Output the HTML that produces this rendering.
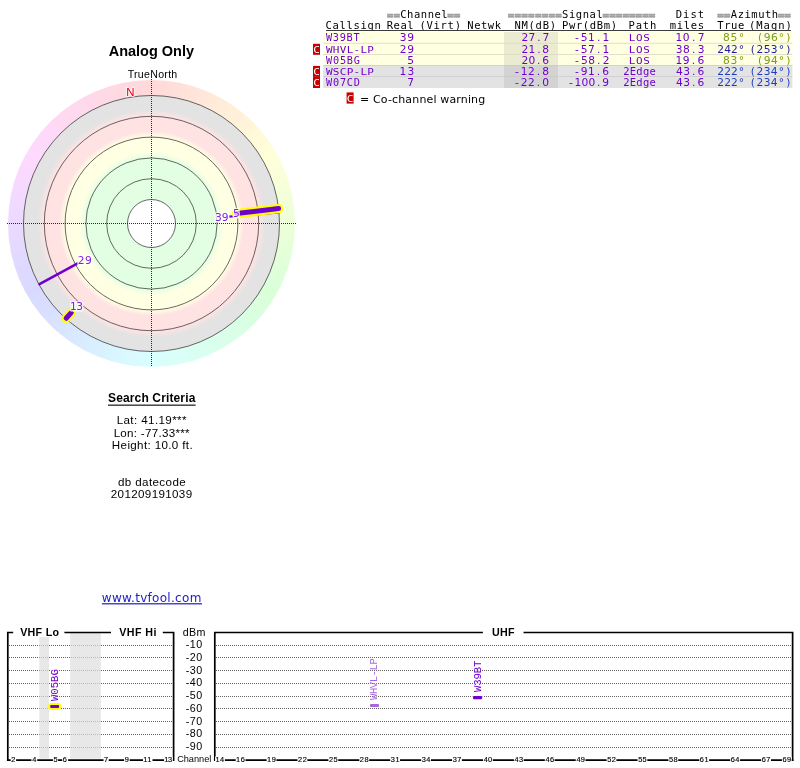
<!DOCTYPE html>
<html lang="en">
<head>
<meta charset="utf-8">
<title>TV Fool - Analog Only radar plot</title>
<style>
html,body{margin:0;padding:0;background:#fff;}
#wrap{position:relative;width:800px;height:768px;overflow:hidden;background:#fff;}
#ring{position:absolute;left:8px;top:80px;width:287px;height:287px;border-radius:50%;background:conic-gradient(from 0deg, rgb(255,217,217) 0deg, rgb(255,223,217) 10deg, rgb(255,230,217) 20deg, rgb(255,236,217) 30deg, rgb(255,242,217) 40deg, rgb(255,249,217) 50deg, rgb(255,255,217) 60deg, rgb(249,255,217) 70deg, rgb(242,255,217) 80deg, rgb(236,255,217) 90deg, rgb(230,255,217) 100deg, rgb(223,255,217) 110deg, rgb(217,255,217) 120deg, rgb(217,255,223) 130deg, rgb(217,255,230) 140deg, rgb(217,255,236) 150deg, rgb(217,255,242) 160deg, rgb(217,255,249) 170deg, rgb(217,255,255) 180deg, rgb(217,249,255) 190deg, rgb(217,242,255) 200deg, rgb(217,236,255) 210deg, rgb(217,229,255) 220deg, rgb(217,223,255) 230deg, rgb(217,217,255) 240deg, rgb(223,217,255) 250deg, rgb(229,217,255) 260deg, rgb(236,217,255) 270deg, rgb(242,217,255) 280deg, rgb(249,217,255) 290deg, rgb(255,217,255) 300deg, rgb(255,217,249) 310deg, rgb(255,217,242) 320deg, rgb(255,217,236) 330deg, rgb(255,217,230) 340deg, rgb(255,217,223) 350deg, rgb(255,217,217) 360deg);}
#wrap svg{position:absolute;left:0;top:0;display:block;}
text{white-space:pre;}
</style>
</head>
<body>
<div id="wrap">
<div id="ring"></div>
<svg width="800" height="768" viewBox="0 0 800 768">
<defs>
<radialGradient id="zones" gradientUnits="userSpaceOnUse" cx="151.5" cy="223.5" r="128">
<stop offset="0.0000" stop-color="#e3ffe3"/><stop offset="0.5141" stop-color="#e3ffe3"/><stop offset="0.5609" stop-color="#ffffe3"/><stop offset="0.6750" stop-color="#ffffe3"/><stop offset="0.7219" stop-color="#ffe3e3"/><stop offset="0.8406" stop-color="#ffe3e3"/><stop offset="0.8891" stop-color="#e3e3e3"/><stop offset="1.0000" stop-color="#e3e3e3"/>
</radialGradient>
</defs>
<text x="108.74" y="55.50" font-family="'Liberation Sans', Arial, sans-serif" font-size="14.50" font-weight="bold" fill="#000" style="letter-spacing:-0.015px" >Analog Only</text>
<text x="127.66" y="77.70" font-family="'Liberation Sans', Arial, sans-serif" font-size="10.60" font-weight="normal" fill="#000" style="letter-spacing:0.289px" >TrueNorth</text>
<circle cx="151.5" cy="223.5" r="128" fill="url(#zones)"/>
<circle cx="151.5" cy="223.5" r="24" fill="#fff"/>
<g fill="none" stroke="#282828" stroke-width="0.7">
<circle cx="151.5" cy="223.5" r="128"/>
<circle cx="151.5" cy="223.5" r="107.2"/>
<circle cx="151.5" cy="223.5" r="86.4"/>
<circle cx="151.5" cy="223.5" r="65.6"/>
<circle cx="151.5" cy="223.5" r="44.8"/>
<circle cx="151.5" cy="223.5" r="24"/>
</g>
<g stroke="#2a2a2a" stroke-width="1" stroke-dasharray="1 1" shape-rendering="crispEdges">
<line x1="7" y1="223.5" x2="296" y2="223.5"/>
<line x1="151.5" y1="79" x2="151.5" y2="367"/>
</g>
<text x="126.16" y="96.10" font-family="'Liberation Sans', Arial, sans-serif" font-size="11.40" font-weight="normal" fill="#e00018" style="letter-spacing:0.000px" stroke="#fff" stroke-opacity="0.55" stroke-width="2.4" stroke-linejoin="round" paint-order="stroke">N</text>
<line x1="229.40" y1="216.68" x2="279.31" y2="212.32" stroke="#7000d0" stroke-width="2.2" stroke-linecap="butt"/>
<line x1="78.14" y1="263.17" x2="38.55" y2="284.57" stroke="#7000d0" stroke-width="2.6" stroke-linecap="butt"/>
<line x1="71.27" y1="312.60" x2="66.19" y2="318.25" stroke="#ffff00" stroke-width="9.3" stroke-linecap="round"/>
<line x1="71.27" y1="312.60" x2="66.19" y2="318.25" stroke="#7000d0" stroke-width="5.0" stroke-linecap="round"/>
<line x1="236.52" y1="213.51" x2="278.63" y2="208.57" stroke="#ffff00" stroke-width="9.3" stroke-linecap="round"/>
<line x1="236.52" y1="213.51" x2="278.63" y2="208.57" stroke="#7000d0" stroke-width="5.0" stroke-linecap="round"/>
<rect x="214.60" y="212.00" width="14.30" height="10.40" rx="1" fill="#fff" fill-opacity="0.5"/>
<text x="218.38 225.06" y="221.00" text-anchor="middle" font-family="'DejaVu Sans', 'Liberation Sans', sans-serif" font-size="10.67" fill="#8020dc" stroke="#fff" stroke-opacity="0.55" stroke-width="2.4" stroke-linejoin="round" paint-order="stroke">39</text>
<rect x="232.80" y="208.00" width="7.20" height="10.40" rx="1" fill="#fff" fill-opacity="0.5"/>
<text x="236.45" y="217.00" text-anchor="middle" font-family="'DejaVu Sans', 'Liberation Sans', sans-serif" font-size="10.67" fill="#8020dc" stroke="#fff" stroke-opacity="0.55" stroke-width="2.4" stroke-linejoin="round" paint-order="stroke">5</text>
<rect x="77.40" y="254.80" width="14.80" height="10.40" rx="1" fill="#fff" fill-opacity="0.5"/>
<text x="81.21 88.36" y="263.80" text-anchor="middle" font-family="'DejaVu Sans', 'Liberation Sans', sans-serif" font-size="10.67" fill="#8020dc" stroke="#fff" stroke-opacity="0.55" stroke-width="2.4" stroke-linejoin="round" paint-order="stroke">29</text>
<rect x="70.00" y="301.40" width="13.40" height="10.40" rx="1" fill="#fff" fill-opacity="0.5"/>
<text x="73.42 79.66" y="310.40" text-anchor="middle" font-family="'DejaVu Sans', 'Liberation Sans', sans-serif" font-size="10.67" fill="#8020dc" stroke="#fff" stroke-opacity="0.55" stroke-width="2.4" stroke-linejoin="round" paint-order="stroke">13</text>
<text x="108.05" y="401.50" font-family="'Liberation Sans', Arial, sans-serif" font-size="12.00" font-weight="bold" fill="#000" style="letter-spacing:0.135px" >Search Criteria</text>
<rect x="108" y="404.6" width="87.6" height="1.1" fill="#000"/>
<text x="116.65" y="424.00" font-family="'Liberation Sans', Arial, sans-serif" font-size="11.60" font-weight="normal" fill="#000" style="letter-spacing:0.399px" >Lat: 41.19***</text>
<text x="113.65" y="437.00" font-family="'Liberation Sans', Arial, sans-serif" font-size="11.60" font-weight="normal" fill="#000" style="letter-spacing:0.285px" >Lon: -77.33***</text>
<text x="111.85" y="449.00" font-family="'Liberation Sans', Arial, sans-serif" font-size="11.60" font-weight="normal" fill="#000" style="letter-spacing:0.358px" >Height: 10.0 ft.</text>
<text x="117.91" y="486.00" font-family="'Liberation Sans', Arial, sans-serif" font-size="11.60" font-weight="normal" fill="#000" style="letter-spacing:0.395px" >db datecode</text>
<text x="110.82" y="498.00" font-family="'Liberation Sans', Arial, sans-serif" font-size="11.60" font-weight="normal" fill="#000" style="letter-spacing:0.356px" >201209191039</text>
<text x="101.80" y="601.70" font-family="'DejaVu Sans', 'Liberation Sans', sans-serif" font-size="12.00" font-weight="normal" fill="#1c1cc8" style="letter-spacing:0.298px" >www.tvfool.com</text>
<rect x="102" y="603.2" width="100" height="1.2" fill="#1c1cc8"/>
<rect x="323.2" y="32.0" width="469.20" height="11.20" fill="#ffffe1"/>
<rect x="504.0" y="32.0" width="54.00" height="11.20" fill="#ebebd1"/>
<rect x="323.2" y="43.2" width="469.20" height="11.20" fill="#ffffe1"/>
<rect x="504.0" y="43.2" width="54.00" height="11.20" fill="#ebebd1"/>
<rect x="323.2" y="54.4" width="469.20" height="11.00" fill="#ffffe1"/>
<rect x="504.0" y="54.4" width="54.00" height="11.00" fill="#ebebd1"/>
<rect x="323.2" y="65.4" width="469.20" height="11.20" fill="#e3e3e3"/>
<rect x="504.0" y="65.4" width="54.00" height="11.20" fill="#d3d3d3"/>
<rect x="323.2" y="76.6" width="469.20" height="11.40" fill="#e3e3e3"/>
<rect x="504.0" y="76.6" width="54.00" height="11.40" fill="#d3d3d3"/>
<rect x="323.2" y="42.85" width="469.20" height="0.7" fill="#d4d4bc"/>
<rect x="323.2" y="54.05" width="469.20" height="0.7" fill="#d4d4bc"/>
<rect x="323.2" y="65.05" width="469.20" height="0.7" fill="#c4c4c4"/>
<rect x="323.2" y="76.25" width="469.20" height="0.7" fill="#c4c4c4"/>
<text x="390.04 396.76" y="18.90" text-anchor="middle" font-family="'DejaVu Sans Mono', 'Liberation Mono', monospace" font-size="11.00" fill="#a0a0a0" font-weight="bold" stroke="#a0a0a0" stroke-width="0.5">==</text>
<text x="403.45 410.28 417.12 423.95 430.79 437.62 444.46" y="18.00" text-anchor="middle" font-family="'DejaVu Sans Mono', 'Liberation Mono', monospace" font-size="10.50" fill="#000" >Channel</text>
<text x="450.44 457.16" y="18.90" text-anchor="middle" font-family="'DejaVu Sans Mono', 'Liberation Mono', monospace" font-size="11.00" fill="#a0a0a0" font-weight="bold" stroke="#a0a0a0" stroke-width="0.5">==</text>
<text x="511.04 517.83 524.62 531.41 538.19 544.98 551.77 558.56" y="18.90" text-anchor="middle" font-family="'DejaVu Sans Mono', 'Liberation Mono', monospace" font-size="11.00" fill="#a0a0a0" font-weight="bold" stroke="#a0a0a0" stroke-width="0.5">========</text>
<text x="565.25 572.13 579.01 585.89 592.78 599.66" y="18.00" text-anchor="middle" font-family="'DejaVu Sans Mono', 'Liberation Mono', monospace" font-size="10.50" fill="#000" >Signal</text>
<text x="605.84 612.46 619.07 625.69 632.31 638.93 645.54 652.16" y="18.90" text-anchor="middle" font-family="'DejaVu Sans Mono', 'Liberation Mono', monospace" font-size="11.00" fill="#a0a0a0" font-weight="bold" stroke="#a0a0a0" stroke-width="0.5">========</text>
<text x="678.96 686.26 693.57 700.87" y="18.00" text-anchor="middle" font-family="'DejaVu Sans Mono', 'Liberation Mono', monospace" font-size="10.50" fill="#000" >Dist</text>
<text x="720.44 727.16" y="18.90" text-anchor="middle" font-family="'DejaVu Sans Mono', 'Liberation Mono', monospace" font-size="11.00" fill="#a0a0a0" font-weight="bold" stroke="#a0a0a0" stroke-width="0.5">==</text>
<text x="733.97 740.81 747.64 754.47 761.31 768.14 774.97" y="18.00" text-anchor="middle" font-family="'DejaVu Sans Mono', 'Liberation Mono', monospace" font-size="10.50" fill="#000" >Azimuth</text>
<text x="781.04 787.66" y="18.90" text-anchor="middle" font-family="'DejaVu Sans Mono', 'Liberation Mono', monospace" font-size="11.00" fill="#a0a0a0" font-weight="bold" stroke="#a0a0a0" stroke-width="0.5">==</text>
<text x="328.65 335.67 342.68 349.70 356.72 363.74 370.75 377.77" y="28.60" text-anchor="middle" font-family="'DejaVu Sans Mono', 'Liberation Mono', monospace" font-size="10.50" fill="#000" >Callsign</text>
<text x="389.93 396.77 403.62 410.46" y="28.60" text-anchor="middle" font-family="'DejaVu Sans Mono', 'Liberation Mono', monospace" font-size="10.50" fill="#000" >Real</text>
<text x="422.58 429.63 436.68 443.72 450.77 457.82" y="28.60" text-anchor="middle" font-family="'DejaVu Sans Mono', 'Liberation Mono', monospace" font-size="10.50" fill="#000" >(Virt)</text>
<text x="470.45 477.29 484.12 490.96 497.80" y="28.60" text-anchor="middle" font-family="'DejaVu Sans Mono', 'Liberation Mono', monospace" font-size="10.50" fill="#000" >Netwk</text>
<text x="517.65 524.68 531.72 538.75 545.79 552.82" y="28.60" text-anchor="middle" font-family="'DejaVu Sans Mono', 'Liberation Mono', monospace" font-size="10.50" fill="#000" >NM(dB)</text>
<text x="565.15 572.10 579.06 586.01 592.96 599.92 606.87 613.82" y="28.60" text-anchor="middle" font-family="'DejaVu Sans Mono', 'Liberation Mono', monospace" font-size="10.50" fill="#000" >Pwr(dBm)</text>
<text x="631.75 638.89 646.03 653.17" y="28.60" text-anchor="middle" font-family="'DejaVu Sans Mono', 'Liberation Mono', monospace" font-size="10.50" fill="#000" >Path</text>
<text x="672.80 679.82 686.84 693.86 700.88" y="28.60" text-anchor="middle" font-family="'DejaVu Sans Mono', 'Liberation Mono', monospace" font-size="10.50" fill="#000" >miles</text>
<text x="720.52 727.37 734.21 741.06" y="28.60" text-anchor="middle" font-family="'DejaVu Sans Mono', 'Liberation Mono', monospace" font-size="10.50" fill="#000" >True</text>
<text x="752.18 759.47 766.76 774.04 781.33 788.62" y="28.60" text-anchor="middle" font-family="'DejaVu Sans Mono', 'Liberation Mono', monospace" font-size="10.50" fill="#000" >(Magn)</text>
<rect x="326" y="30" width="465" height="1" fill="#3c3c3c"/>
<text x="329.08 335.92 342.77 349.61 356.46" y="41.00" text-anchor="middle" font-family="'DejaVu Sans Mono', 'Liberation Mono', monospace" font-size="10.23" fill="#7000d0" >W39BT</text>
<text x="403.18 410.76" y="41.00" text-anchor="middle" font-family="'DejaVu Sans', 'Liberation Sans', sans-serif" font-size="10.67" fill="#7000d0" >39</text>
<text x="525.01 531.98 538.95 545.92" y="41.00" text-anchor="middle" font-family="'DejaVu Sans', 'Liberation Sans', sans-serif" font-size="10.67" fill="#7000d0" >27.7</text>
<text x="577.00 584.25 591.50 598.74 605.99" y="41.00" text-anchor="middle" font-family="'DejaVu Sans', 'Liberation Sans', sans-serif" font-size="10.67" fill="#7000d0" >-51.1</text>
<text transform="matrix(1 0 0 0.800 0 41.00)" x="632.16 639.39 646.61" y="0" text-anchor="middle" font-family="'DejaVu Sans Mono', 'Liberation Mono', monospace" font-size="11.00" fill="#7000d0" >LOS</text>
<text x="678.82 686.25 693.69 701.12" y="41.00" text-anchor="middle" font-family="'DejaVu Sans', 'Liberation Sans', sans-serif" font-size="10.67" fill="#7000d0" >10.7</text>
<text x="726.47 733.91 741.35" y="41.00" text-anchor="middle" font-family="'DejaVu Sans', 'Liberation Sans', sans-serif" font-size="10.67" fill="#7c9c1c" >85°</text>
<text x="760.16 767.23 774.30 781.37 788.44" y="41.00" text-anchor="middle" font-family="'DejaVu Sans', 'Liberation Sans', sans-serif" font-size="10.67" fill="#7c9c1c" >(96°)</text>
<text transform="matrix(1 0 0 0.800 0 53.00)" x="329.31 336.19 343.07 349.95 356.83 363.70 370.58" y="0" text-anchor="middle" font-family="'DejaVu Sans Mono', 'Liberation Mono', monospace" font-size="11.00" fill="#7000d0" >WHVL-LP</text>
<text x="403.21 410.76" y="53.00" text-anchor="middle" font-family="'DejaVu Sans', 'Liberation Sans', sans-serif" font-size="10.67" fill="#7000d0" >29</text>
<text x="525.01 531.92 538.83 545.74" y="53.00" text-anchor="middle" font-family="'DejaVu Sans', 'Liberation Sans', sans-serif" font-size="10.67" fill="#7000d0" >21.8</text>
<text x="577.00 584.25 591.50 598.74 605.99" y="53.00" text-anchor="middle" font-family="'DejaVu Sans', 'Liberation Sans', sans-serif" font-size="10.67" fill="#7000d0" >-57.1</text>
<text transform="matrix(1 0 0 0.800 0 53.00)" x="632.16 639.39 646.61" y="0" text-anchor="middle" font-family="'DejaVu Sans Mono', 'Liberation Mono', monospace" font-size="11.00" fill="#7000d0" >LOS</text>
<text x="679.18 686.47 693.77 701.06" y="53.00" text-anchor="middle" font-family="'DejaVu Sans', 'Liberation Sans', sans-serif" font-size="10.67" fill="#7000d0" >38.3</text>
<text x="720.61 727.52 734.44 741.35" y="53.00" text-anchor="middle" font-family="'DejaVu Sans', 'Liberation Sans', sans-serif" font-size="10.67" fill="#1c1ca8" >242°</text>
<text x="752.76 759.90 767.03 774.17 781.30 788.44" y="53.00" text-anchor="middle" font-family="'DejaVu Sans', 'Liberation Sans', sans-serif" font-size="10.67" fill="#1c1ca8" >(253°)</text>
<rect x="313" y="43.80" width="7" height="11" fill="#c80000"/>
<text transform="matrix(1 0 0 0.800 0 52.90)" x="316.51" y="0" text-anchor="middle" font-family="'DejaVu Sans Mono', 'Liberation Mono', monospace" font-size="11.00" fill="#fff" >C</text>
<text x="329.08 336.03 342.97 349.92 356.86" y="64.00" text-anchor="middle" font-family="'DejaVu Sans Mono', 'Liberation Mono', monospace" font-size="10.23" fill="#7000d0" >W05BG</text>
<text x="410.65" y="64.00" text-anchor="middle" font-family="'DejaVu Sans', 'Liberation Sans', sans-serif" font-size="10.67" fill="#7000d0" >5</text>
<text x="525.01 531.90 538.79 545.68" y="64.00" text-anchor="middle" font-family="'DejaVu Sans', 'Liberation Sans', sans-serif" font-size="10.67" fill="#7000d0" >20.6</text>
<text x="577.00 584.27 591.54 598.81 606.07" y="64.00" text-anchor="middle" font-family="'DejaVu Sans', 'Liberation Sans', sans-serif" font-size="10.67" fill="#7000d0" >-58.2</text>
<text transform="matrix(1 0 0 0.800 0 64.00)" x="632.16 639.39 646.61" y="0" text-anchor="middle" font-family="'DejaVu Sans Mono', 'Liberation Mono', monospace" font-size="11.00" fill="#7000d0" >LOS</text>
<text x="678.82 686.17 693.53 700.88" y="64.00" text-anchor="middle" font-family="'DejaVu Sans', 'Liberation Sans', sans-serif" font-size="10.67" fill="#7000d0" >19.6</text>
<text x="726.47 733.91 741.35" y="64.00" text-anchor="middle" font-family="'DejaVu Sans', 'Liberation Sans', sans-serif" font-size="10.67" fill="#7c9c1c" >83°</text>
<text x="760.16 767.23 774.30 781.37 788.44" y="64.00" text-anchor="middle" font-family="'DejaVu Sans', 'Liberation Sans', sans-serif" font-size="10.67" fill="#7c9c1c" >(94°)</text>
<text transform="matrix(1 0 0 0.800 0 75.10)" x="329.31 336.19 343.07 349.95 356.83 363.70 370.58" y="0" text-anchor="middle" font-family="'DejaVu Sans Mono', 'Liberation Mono', monospace" font-size="11.00" fill="#7000d0" >WSCP-LP</text>
<text x="402.82 410.86" y="75.10" text-anchor="middle" font-family="'DejaVu Sans', 'Liberation Sans', sans-serif" font-size="10.67" fill="#7000d0" >13</text>
<text x="517.00 524.19 531.37 538.55 545.74" y="75.10" text-anchor="middle" font-family="'DejaVu Sans', 'Liberation Sans', sans-serif" font-size="10.67" fill="#7000d0" >-12.8</text>
<text x="577.00 584.17 591.34 598.51 605.68" y="75.10" text-anchor="middle" font-family="'DejaVu Sans', 'Liberation Sans', sans-serif" font-size="10.67" fill="#7000d0" >-91.6</text>
<text x="626.38 632.95 639.52 646.09 652.66" y="75.10" text-anchor="middle" font-family="'DejaVu Sans Mono', 'Liberation Mono', monospace" font-size="10.50" fill="#7000d0" >2Edge</text>
<text x="679.47 686.61 693.74 700.88" y="75.10" text-anchor="middle" font-family="'DejaVu Sans', 'Liberation Sans', sans-serif" font-size="10.67" fill="#7000d0" >43.6</text>
<text x="720.61 727.52 734.44 741.35" y="75.10" text-anchor="middle" font-family="'DejaVu Sans', 'Liberation Sans', sans-serif" font-size="10.67" fill="#1c3cc0" >222°</text>
<text x="752.76 759.90 767.03 774.17 781.30 788.44" y="75.10" text-anchor="middle" font-family="'DejaVu Sans', 'Liberation Sans', sans-serif" font-size="10.67" fill="#1c3cc0" >(234°)</text>
<rect x="313" y="65.90" width="7" height="11" fill="#c80000"/>
<text transform="matrix(1 0 0 0.800 0 75.00)" x="316.51" y="0" text-anchor="middle" font-family="'DejaVu Sans Mono', 'Liberation Mono', monospace" font-size="11.00" fill="#fff" >C</text>
<text x="329.08 336.02 342.97 349.91 356.85" y="86.20" text-anchor="middle" font-family="'DejaVu Sans Mono', 'Liberation Mono', monospace" font-size="10.23" fill="#7000d0" >W07CD</text>
<text x="410.62" y="86.20" text-anchor="middle" font-family="'DejaVu Sans', 'Liberation Sans', sans-serif" font-size="10.67" fill="#7000d0" >7</text>
<text x="517.00 524.18 531.36 538.54 545.71" y="86.20" text-anchor="middle" font-family="'DejaVu Sans', 'Liberation Sans', sans-serif" font-size="10.67" fill="#7000d0" >-22.0</text>
<text x="571.00 577.95 584.90 591.86 598.81 605.76" y="86.20" text-anchor="middle" font-family="'DejaVu Sans', 'Liberation Sans', sans-serif" font-size="10.67" fill="#7000d0" >-100.9</text>
<text x="626.38 632.95 639.52 646.09 652.66" y="86.20" text-anchor="middle" font-family="'DejaVu Sans Mono', 'Liberation Mono', monospace" font-size="10.50" fill="#7000d0" >2Edge</text>
<text x="679.47 686.61 693.74 700.88" y="86.20" text-anchor="middle" font-family="'DejaVu Sans', 'Liberation Sans', sans-serif" font-size="10.67" fill="#7000d0" >43.6</text>
<text x="720.61 727.52 734.44 741.35" y="86.20" text-anchor="middle" font-family="'DejaVu Sans', 'Liberation Sans', sans-serif" font-size="10.67" fill="#1c3cc0" >222°</text>
<text x="752.76 759.90 767.03 774.17 781.30 788.44" y="86.20" text-anchor="middle" font-family="'DejaVu Sans', 'Liberation Sans', sans-serif" font-size="10.67" fill="#1c3cc0" >(234°)</text>
<rect x="313" y="77.00" width="7" height="11" fill="#c80000"/>
<text transform="matrix(1 0 0 0.800 0 86.10)" x="316.51" y="0" text-anchor="middle" font-family="'DejaVu Sans Mono', 'Liberation Mono', monospace" font-size="11.00" fill="#fff" >C</text>
<rect x="346.6" y="92.4" width="7" height="11.2" fill="#c80000"/>
<text transform="matrix(1 0 0 0.800 0 101.60)" x="350.11" y="0" text-anchor="middle" font-family="'DejaVu Sans Mono', 'Liberation Mono', monospace" font-size="11.00" fill="#fff" >C</text>
<text x="360.03" y="103.00" font-family="'DejaVu Sans', 'Liberation Sans', sans-serif" font-size="11.00" font-weight="normal" fill="#000" style="letter-spacing:0.148px" >= Co-channel warning</text>
<g stroke="#606060" stroke-width="1" stroke-dasharray="1 1" shape-rendering="crispEdges">
<line x1="9" y1="645.5" x2="172" y2="645.5"/>
<line x1="216" y1="645.5" x2="792" y2="645.5"/>
<line x1="9" y1="657.5" x2="172" y2="657.5"/>
<line x1="216" y1="657.5" x2="792" y2="657.5"/>
<line x1="9" y1="670.5" x2="172" y2="670.5"/>
<line x1="216" y1="670.5" x2="792" y2="670.5"/>
<line x1="9" y1="683.5" x2="172" y2="683.5"/>
<line x1="216" y1="683.5" x2="792" y2="683.5"/>
<line x1="9" y1="696.5" x2="172" y2="696.5"/>
<line x1="216" y1="696.5" x2="792" y2="696.5"/>
<line x1="9" y1="708.5" x2="172" y2="708.5"/>
<line x1="216" y1="708.5" x2="792" y2="708.5"/>
<line x1="9" y1="721.5" x2="172" y2="721.5"/>
<line x1="216" y1="721.5" x2="792" y2="721.5"/>
<line x1="9" y1="734.5" x2="172" y2="734.5"/>
<line x1="216" y1="734.5" x2="792" y2="734.5"/>
<line x1="9" y1="747.5" x2="172" y2="747.5"/>
<line x1="216" y1="747.5" x2="792" y2="747.5"/>
</g>
<rect x="39.3" y="633" width="9.7" height="125.7" fill="#dedede" fill-opacity="0.7"/>
<rect x="70.2" y="633" width="30.7" height="125.7" fill="#dedede" fill-opacity="0.7"/>
<g stroke="#000" stroke-width="1.7" fill="none">
<path d="M7.8 761 V631.65 M6.95 632.5 H173.6 M173.6 631.65 V761"/>
<path d="M214.8 760 V631.65 M213.95 632.5 H793.4 M792.6 631.65 V761"/>
<path d="M6.95 760.2 H173.6 M213.95 760.2 H793.4"/>
</g>
<rect x="13.20" y="625.00" width="51.20" height="12.00" fill="#fff"/>
<text x="20.23" y="635.80" font-family="'Liberation Sans', Arial, sans-serif" font-size="10.70" font-weight="bold" fill="#000" style="letter-spacing:0.269px" >VHF Lo</text>
<rect x="111.00" y="625.00" width="51.80" height="12.00" fill="#fff"/>
<text x="119.23" y="635.80" font-family="'Liberation Sans', Arial, sans-serif" font-size="10.70" font-weight="bold" fill="#000" style="letter-spacing:0.432px" >VHF Hi</text>
<rect x="482.90" y="625.00" width="40.60" height="12.00" fill="#fff"/>
<text x="491.96" y="635.80" font-family="'Liberation Sans', Arial, sans-serif" font-size="10.70" font-weight="bold" fill="#000" style="letter-spacing:0.322px" >UHF</text>
<text x="182.75" y="635.60" font-family="'Liberation Sans', Arial, sans-serif" font-size="10.70" font-weight="normal" fill="#000" style="letter-spacing:0.277px" >dBm</text>
<text x="185.72" y="648.00" font-family="'Liberation Sans', Arial, sans-serif" font-size="10.70" font-weight="normal" fill="#000" style="letter-spacing:0.514px" >-10</text>
<text x="185.72" y="661.00" font-family="'Liberation Sans', Arial, sans-serif" font-size="10.70" font-weight="normal" fill="#000" style="letter-spacing:0.514px" >-20</text>
<text x="185.72" y="674.00" font-family="'Liberation Sans', Arial, sans-serif" font-size="10.70" font-weight="normal" fill="#000" style="letter-spacing:0.514px" >-30</text>
<text x="185.72" y="686.00" font-family="'Liberation Sans', Arial, sans-serif" font-size="10.70" font-weight="normal" fill="#000" style="letter-spacing:0.514px" >-40</text>
<text x="185.72" y="699.00" font-family="'Liberation Sans', Arial, sans-serif" font-size="10.70" font-weight="normal" fill="#000" style="letter-spacing:0.514px" >-50</text>
<text x="185.72" y="712.00" font-family="'Liberation Sans', Arial, sans-serif" font-size="10.70" font-weight="normal" fill="#000" style="letter-spacing:0.514px" >-60</text>
<text x="185.72" y="725.00" font-family="'Liberation Sans', Arial, sans-serif" font-size="10.70" font-weight="normal" fill="#000" style="letter-spacing:0.514px" >-70</text>
<text x="185.72" y="737.00" font-family="'Liberation Sans', Arial, sans-serif" font-size="10.70" font-weight="normal" fill="#000" style="letter-spacing:0.514px" >-80</text>
<text x="185.72" y="750.00" font-family="'Liberation Sans', Arial, sans-serif" font-size="10.70" font-weight="normal" fill="#000" style="letter-spacing:0.514px" >-90</text>
<rect x="175.50" y="753.00" width="37.50" height="11.00" fill="#fff"/>
<text x="177.13" y="762.00" font-family="'Liberation Sans', Arial, sans-serif" font-size="9.20" font-weight="normal" fill="#000" style="letter-spacing:0.002px" >Channel</text>
<rect x="10.70" y="756.50" width="5.40" height="6.50" fill="#fff"/>
<text x="11.23" y="762.00" font-family="'Liberation Sans', Arial, sans-serif" font-size="7.40" font-weight="normal" fill="#000" style="letter-spacing:0.000px" stroke="#000" stroke-width="0.15">2</text>
<rect x="31.40" y="756.50" width="5.80" height="6.50" fill="#fff"/>
<text x="32.13" y="762.00" font-family="'Liberation Sans', Arial, sans-serif" font-size="7.40" font-weight="normal" fill="#000" style="letter-spacing:0.000px" stroke="#000" stroke-width="0.15">4</text>
<rect x="52.90" y="756.50" width="5.20" height="6.50" fill="#fff"/>
<text x="53.50" y="762.00" font-family="'Liberation Sans', Arial, sans-serif" font-size="7.40" font-weight="normal" fill="#000" style="letter-spacing:0.000px" stroke="#000" stroke-width="0.15">5</text>
<rect x="62.20" y="756.50" width="5.90" height="6.50" fill="#fff"/>
<text x="62.72" y="762.00" font-family="'Liberation Sans', Arial, sans-serif" font-size="7.40" font-weight="normal" fill="#000" style="letter-spacing:0.000px" stroke="#000" stroke-width="0.15">6</text>
<rect x="103.50" y="756.50" width="5.20" height="6.50" fill="#fff"/>
<text x="104.02" y="762.00" font-family="'Liberation Sans', Arial, sans-serif" font-size="7.40" font-weight="normal" fill="#000" style="letter-spacing:0.000px" stroke="#000" stroke-width="0.15">7</text>
<rect x="124.10" y="756.50" width="5.60" height="6.50" fill="#fff"/>
<text x="124.65" y="762.00" font-family="'Liberation Sans', Arial, sans-serif" font-size="7.40" font-weight="normal" fill="#000" style="letter-spacing:0.000px" stroke="#000" stroke-width="0.15">9</text>
<rect x="143.00" y="756.50" width="9.50" height="6.50" fill="#fff"/>
<text x="143.34" y="762.00" font-family="'Liberation Sans', Arial, sans-serif" font-size="7.40" font-weight="normal" fill="#000" style="letter-spacing:0.394px" stroke="#000" stroke-width="0.15">11</text>
<rect x="164.00" y="756.50" width="8.80" height="6.50" fill="#fff"/>
<text x="164.34" y="762.00" font-family="'Liberation Sans', Arial, sans-serif" font-size="7.40" font-weight="normal" fill="#000" style="letter-spacing:-0.342px" stroke="#000" stroke-width="0.15">13</text>
<rect x="215.10" y="756.50" width="9.80" height="6.50" fill="#fff"/>
<text x="215.44" y="762.00" font-family="'Liberation Sans', Arial, sans-serif" font-size="7.40" font-weight="normal" fill="#000" style="letter-spacing:0.549px" stroke="#000" stroke-width="0.15">14</text>
<rect x="235.71" y="756.50" width="9.80" height="6.50" fill="#fff"/>
<text x="236.04" y="762.00" font-family="'Liberation Sans', Arial, sans-serif" font-size="7.40" font-weight="normal" fill="#000" style="letter-spacing:0.658px" stroke="#000" stroke-width="0.15">16</text>
<rect x="266.62" y="756.50" width="9.80" height="6.50" fill="#fff"/>
<text x="266.95" y="762.00" font-family="'Liberation Sans', Arial, sans-serif" font-size="7.40" font-weight="normal" fill="#000" style="letter-spacing:0.683px" stroke="#000" stroke-width="0.15">19</text>
<rect x="297.52" y="756.50" width="9.80" height="6.50" fill="#fff"/>
<text x="298.05" y="762.00" font-family="'Liberation Sans', Arial, sans-serif" font-size="7.40" font-weight="normal" fill="#000" style="letter-spacing:0.513px" stroke="#000" stroke-width="0.15">22</text>
<rect x="328.43" y="756.50" width="9.80" height="6.50" fill="#fff"/>
<text x="328.96" y="762.00" font-family="'Liberation Sans', Arial, sans-serif" font-size="7.40" font-weight="normal" fill="#000" style="letter-spacing:0.452px" stroke="#000" stroke-width="0.15">25</text>
<rect x="359.34" y="756.50" width="9.80" height="6.50" fill="#fff"/>
<text x="359.87" y="762.00" font-family="'Liberation Sans', Arial, sans-serif" font-size="7.40" font-weight="normal" fill="#000" style="letter-spacing:0.463px" stroke="#000" stroke-width="0.15">28</text>
<rect x="390.25" y="756.50" width="9.80" height="6.50" fill="#fff"/>
<text x="390.87" y="762.00" font-family="'Liberation Sans', Arial, sans-serif" font-size="7.40" font-weight="normal" fill="#000" style="letter-spacing:0.412px" stroke="#000" stroke-width="0.15">31</text>
<rect x="421.16" y="756.50" width="9.80" height="6.50" fill="#fff"/>
<text x="421.78" y="762.00" font-family="'Liberation Sans', Arial, sans-serif" font-size="7.40" font-weight="normal" fill="#000" style="letter-spacing:0.268px" stroke="#000" stroke-width="0.15">34</text>
<rect x="452.07" y="756.50" width="9.80" height="6.50" fill="#fff"/>
<text x="452.69" y="762.00" font-family="'Liberation Sans', Arial, sans-serif" font-size="7.40" font-weight="normal" fill="#000" style="letter-spacing:0.423px" stroke="#000" stroke-width="0.15">37</text>
<rect x="482.98" y="756.50" width="9.80" height="6.50" fill="#fff"/>
<text x="483.71" y="762.00" font-family="'Liberation Sans', Arial, sans-serif" font-size="7.40" font-weight="normal" fill="#000" style="letter-spacing:0.228px" stroke="#000" stroke-width="0.15">40</text>
<rect x="513.89" y="756.50" width="9.80" height="6.50" fill="#fff"/>
<text x="514.62" y="762.00" font-family="'Liberation Sans', Arial, sans-serif" font-size="7.40" font-weight="normal" fill="#000" style="letter-spacing:0.264px" stroke="#000" stroke-width="0.15">43</text>
<rect x="544.80" y="756.50" width="9.80" height="6.50" fill="#fff"/>
<text x="545.53" y="762.00" font-family="'Liberation Sans', Arial, sans-serif" font-size="7.40" font-weight="normal" fill="#000" style="letter-spacing:0.264px" stroke="#000" stroke-width="0.15">46</text>
<rect x="575.71" y="756.50" width="9.80" height="6.50" fill="#fff"/>
<text x="576.44" y="762.00" font-family="'Liberation Sans', Arial, sans-serif" font-size="7.40" font-weight="normal" fill="#000" style="letter-spacing:0.289px" stroke="#000" stroke-width="0.15">49</text>
<rect x="606.61" y="756.50" width="9.80" height="6.50" fill="#fff"/>
<text x="607.22" y="762.00" font-family="'Liberation Sans', Arial, sans-serif" font-size="7.40" font-weight="normal" fill="#000" style="letter-spacing:0.437px" stroke="#000" stroke-width="0.15">52</text>
<rect x="637.52" y="756.50" width="9.80" height="6.50" fill="#fff"/>
<text x="638.13" y="762.00" font-family="'Liberation Sans', Arial, sans-serif" font-size="7.40" font-weight="normal" fill="#000" style="letter-spacing:0.376px" stroke="#000" stroke-width="0.15">55</text>
<rect x="668.43" y="756.50" width="9.80" height="6.50" fill="#fff"/>
<text x="669.04" y="762.00" font-family="'Liberation Sans', Arial, sans-serif" font-size="7.40" font-weight="normal" fill="#000" style="letter-spacing:0.387px" stroke="#000" stroke-width="0.15">58</text>
<rect x="699.34" y="756.50" width="9.80" height="6.50" fill="#fff"/>
<text x="699.87" y="762.00" font-family="'Liberation Sans', Arial, sans-serif" font-size="7.40" font-weight="normal" fill="#000" style="letter-spacing:0.506px" stroke="#000" stroke-width="0.15">61</text>
<rect x="730.25" y="756.50" width="9.80" height="6.50" fill="#fff"/>
<text x="730.77" y="762.00" font-family="'Liberation Sans', Arial, sans-serif" font-size="7.40" font-weight="normal" fill="#000" style="letter-spacing:0.362px" stroke="#000" stroke-width="0.15">64</text>
<rect x="761.16" y="756.50" width="9.80" height="6.50" fill="#fff"/>
<text x="761.68" y="762.00" font-family="'Liberation Sans', Arial, sans-serif" font-size="7.40" font-weight="normal" fill="#000" style="letter-spacing:0.517px" stroke="#000" stroke-width="0.15">67</text>
<rect x="781.90" y="756.50" width="9.80" height="6.50" fill="#fff"/>
<text x="782.42" y="762.00" font-family="'Liberation Sans', Arial, sans-serif" font-size="7.40" font-weight="normal" fill="#000" style="letter-spacing:0.495px" stroke="#000" stroke-width="0.15">69</text>
<g>
<rect x="48.10" y="703.00" width="13.10" height="7.00" rx="3.2" fill="#ffff00"/>
<rect x="50.20" y="705.10" width="8.90" height="2.80" rx="1" fill="#7000d0"/>
<g transform="translate(58.00 701.00) rotate(-90)">
<text x="3.21 9.57 15.93 22.29 28.65" y="0.00" text-anchor="middle" font-family="'Liberation Mono', monospace" font-size="10.70" fill="#7000d0" stroke="#fff" stroke-opacity="0.8" stroke-width="1.6" paint-order="stroke">W05BG</text>
</g>
</g>
<g opacity="0.6">
<rect x="369.00" y="702.90" width="11.00" height="5.10" rx="1.5" fill="#fff" fill-opacity="0.7"/>
<rect x="370.00" y="703.90" width="9.00" height="3.10" rx="1" fill="#7000d0"/>
<g transform="translate(377.20 700.00) rotate(-90)">
<text x="3.21 9.12 15.03 20.94 26.85 32.76 38.66" y="0.00" text-anchor="middle" font-family="'Liberation Mono', monospace" font-size="10.70" fill="#7000d0" stroke="#fff" stroke-opacity="0.8" stroke-width="1.6" paint-order="stroke">WHVL-LP</text>
</g>
</g>
<g>
<rect x="472.00" y="695.00" width="11.20" height="5.20" rx="1.5" fill="#fff" fill-opacity="0.7"/>
<rect x="473.00" y="696.00" width="9.20" height="3.20" rx="1" fill="#7000d0"/>
<g transform="translate(481.40 692.00) rotate(-90)">
<text x="3.21 9.46 15.70 21.95 28.19" y="0.00" text-anchor="middle" font-family="'Liberation Mono', monospace" font-size="10.70" fill="#7000d0" stroke="#fff" stroke-opacity="0.8" stroke-width="1.6" paint-order="stroke">W39BT</text>
</g>
</g>
</svg>
</div>
</body>
</html>
